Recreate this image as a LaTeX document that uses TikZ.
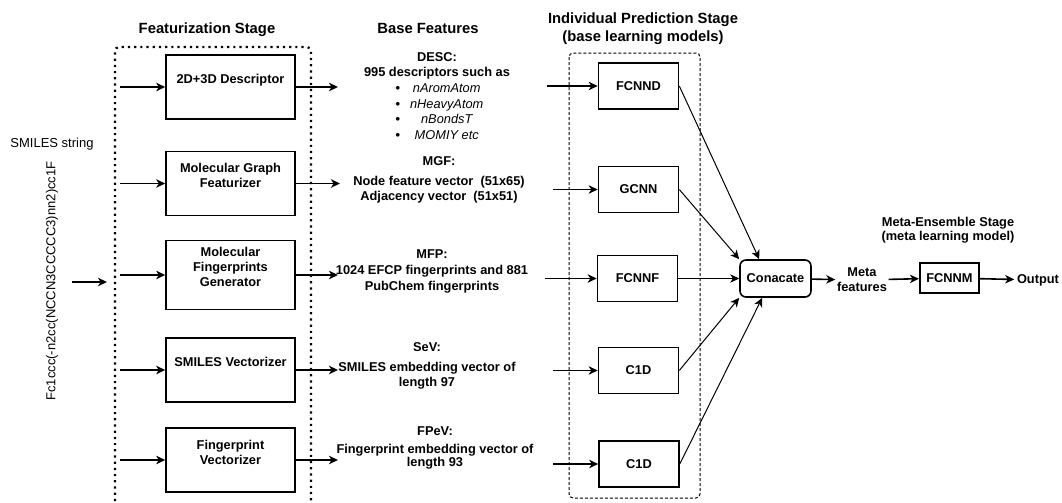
\documentclass[tikz,border=0pt]{standalone}
\usepackage{fontspec}
\setmainfont{Liberation Sans}
\usetikzlibrary{arrows.meta,positioning}

\begin{document}
\begin{tikzpicture}[->,>={Stealth[length=4.5pt,width=4.2pt,inset=1.3pt]},x=0.5pt,y=-0.5pt,line width=0.8pt,
        stage/.style={font=\fontsize{7.4}{9}\selectfont\bfseries,align=center},
        feat/.style={font=\fontsize{6.4}{7.5}\selectfont\bfseries,align=center,inner sep=1pt},
        plain/.style={font=\fontsize{6.5}{7.5}\selectfont,inner sep=1pt},
        featbox/.style={draw,minimum width=64.5pt,minimum height=32pt,align=center,
          text depth=8pt,font=\fontsize{6.4}{7.5}\selectfont\bfseries},
        model/.style={draw,minimum width=40pt,minimum height=23pt,
          font=\fontsize{6.4}{7.5}\selectfont\bfseries},
        link/.style={line width=0.5pt}]

  \useasboundingbox (0,0) rectangle (1062,503);

  % stage frames
  \draw[-,line width=1.1pt,dotted,rounded corners=2pt] (115,501) -- (115,47) -- (311,47) -- (311,501);
  \draw[-,line width=0.5pt,dash pattern=on 1.5pt off 1pt,rounded corners=2pt] (569,53) rectangle (700,498);

  \node[stage] (featstage) at (207,30) {Featurization Stage};
  \node[stage] (basestage) at (428,28) {Base Features};
  \node[stage] (predstage) at (643,29) {Individual Prediction Stage\\(base learning models)};
  \node[feat,align=center] (metastage) at (948,230) {Meta-Ensemble Stage\\[-0.5pt](meta learning model)};

  % input
  \node[plain] (smilestitle) at (52,144) {SMILES string};
  \node[plain,rotate=90] (smiles) at (52,281) {Fc1ccc(-n2cc(NCCN3CCCCC3)nn2)cc1F};
  \coordinate (sin) at (72,282);
  \coordinate (sout) at (107,282);

  % featurizers
  \node[featbox] (descgen) at (230.5,87) {2D+3D Descriptor};
  \node[featbox] (graphfeat) at (230.5,183.5) {Molecular Graph\\Featurizer};
  \node[featbox] (fpgen) at (230.5,275) {Molecular\\Fingerprints\\Generator};
  \node[featbox] (smilesvec) at (230.5,370) {SMILES Vectorizer};
  \node[featbox] (fpvec) at (230.5,460) {Fingerprint\\Vectorizer};

  \coordinate (in1) at (120,87);
  \coordinate (in2) at (120,183.5);
  \coordinate (in3) at (120,275);
  \coordinate (in4) at (120,370);
  \coordinate (in5) at (120,460);
  \coordinate (f1) at (338,87);
  \coordinate (f2) at (340,183.5);
  \coordinate (f3) at (338,275);
  \coordinate (f4) at (338,370);
  \coordinate (f5) at (338,460);

  % base features
  \node[feat] (desc) at (437,66) {DESC:\\995 descriptors such as};
  \node[feat] (desclist) at (439.5,113) {\fontsize{6.4}{7.7}\selectfont
    \begin{tabular}{@{}c@{\hspace{5pt}}c@{}}
      \textbullet & \normalfont\itshape nAromAtom\\
      \textbullet & \normalfont\itshape nHeavyAtom\\
      \textbullet & \normalfont\itshape nBondsT\\
      \textbullet & \normalfont\itshape MOMIY etc
    \end{tabular}};
  \node[feat] (mgf) at (439,180) {MGF:\\[2.5pt]Node feature vector\ \ (51x65)\\Adjacency vector\ \ (51x51)};
  \node[feat] (mfp) at (432,271) {MFP:\\[0.5pt]1024 EFCP fingerprints and 881\\[0.5pt]PubChem fingerprints};
  \node[feat] (sev) at (427,365.5) {SeV:\\[2.5pt]SMILES embedding vector of\\length 97};
  \node[feat] (fpev) at (435,447.5) {FPeV:\\[1.5pt]Fingerprint embedding vector of\\[-1pt]length 93};

  % base learners
  \node[model] (fcnnd) at (638.5,86) {FCNND};
  \node[model] (gcnn) at (638.5,189.5) {GCNN};
  \node[model] (fcnnf) at (637.5,278.5) {FCNNF};
  \node[model] (cnna) at (638.5,370.5) {C1D};
  \node[model] (cnnb) at (639,464) {C1D};

  \coordinate (m1) at (547,86);
  \coordinate (m2) at (553,189.5);
  \coordinate (m3) at (545,278.5);
  \coordinate (m4) at (553,370.5);
  \coordinate (m5) at (553,464);

  % meta stage
  \node[draw,rounded corners=3pt,minimum width=33.5pt,minimum height=18.5pt,
        font=\fontsize{6.4}{7.5}\selectfont\bfseries] (concat) at (775.5,278.5) {Conacate};
  \node[feat,inner sep=0.5pt] (metafeat) at (862,280) {Meta\\features};
  \node[model,minimum width=26.5pt,minimum height=15pt] (fcnnm) at (949.5,278) {FCNNM};
  \node[feat] (output) at (1038,280) {Output};

  \path
        (sin)       edge (sout)
        (in1)       edge (descgen)
        (in2)       edge (graphfeat)
        (in3)       edge (fpgen)
        (in4)       edge (smilesvec)
        (in5)       edge (fpvec)
        (descgen)   edge (f1)
        (graphfeat) edge (f2)
        (fpgen)     edge (f3)
        (smilesvec) edge (f4)
        (fpvec)     edge (f5)
        (m1)        edge (fcnnd)
        (m2)        edge (gcnn)
        (m3)        edge (fcnnf)
        (m4)        edge (cnna)
        (m5)        edge (cnnb);

  \path[link]
        (fcnnd.east) edge ([xshift=10pt]concat.north west)
        (gcnn.east)  edge (concat.north west)
        (fcnnf)      edge (concat)
        (cnna.east)  edge (concat.south west)
        (cnnb.east)  edge ([xshift=11.5pt]concat.south west);

  \path
        (concat)   edge (metafeat)
        (metafeat) edge (fcnnm)
        (fcnnm)    edge (output);

\end{tikzpicture}
\end{document}
